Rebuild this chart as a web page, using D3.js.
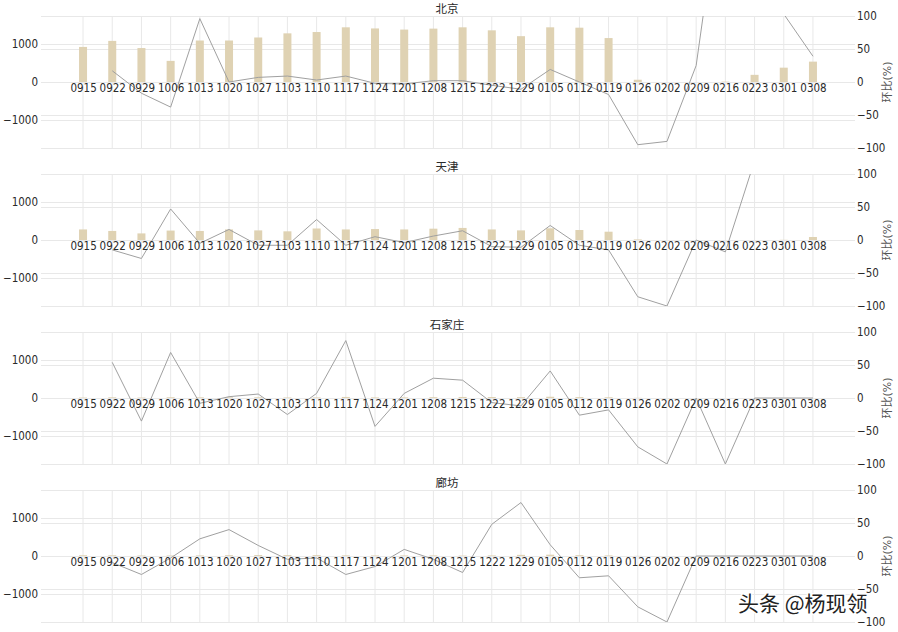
<!DOCTYPE html>
<html><head><meta charset="utf-8">
<script src="https://cdn.jsdelivr.net/npm/d3@7"></script>
<style>
html,body{margin:0;padding:0;background:#fff;}
svg{display:block;font-family:"DejaVu Sans","Noto Sans CJK SC",sans-serif;}
.tk{font-family:"DejaVu Sans Condensed","DejaVu Sans",sans-serif;font-stretch:condensed;}
</style></head>
<body>
<svg id="chart" width="898" height="632"></svg>
<script>
const categories = ["0915","0922","0929","1006","1013","1020","1027","1103","1110","1117","1124","1201","1208","1215","1222","1229","0105","0112","0119","0126","0202","0209","0216","0223","0301","0308"];
const cityNames = ["北京","天津","石家庄","廊坊"];

const beijingVolume = [930,1090,900,560,1100,1100,1180,1290,1325,1450,1420,1390,1415,1450,1370,1215,1450,1440,1165,60,0,0,10,190,380,540];
const beijingChange = [null,17,-17,-38,96,0,7,9,3,9,-2,-3,2,2,-5,-11,19,0,-19,-95,-90,25,340,1500,103,39];

const tianjinVolume = [280,240,175,250,240,280,255,230,305,280,290,280,300,320,280,255,310,265,220,15,0,0,0,0,5,80];
const tianjinChange = [null,-15,-28,47,-5,16,-8,-8,31,-8,5,-4,6,14,-10,-11,22,-8,-15,-86,-100,0,-18,120,400,1500];

const shijiazhuangVolume = [12,18,12,20,18,18,19,14,15,28,16,17,22,28,26,23,33,24,20,5,0,0,0,0,0,0];
const shijiazhuangChange = [null,54,-35,69,-8,2,6,-25,7,87,-43,7,30,27,-7,-12,41,-26,-18,-74,-100,0,-100,0,0,0];

const langfangVolume = [20,18,13,13,16,22,25,24,23,17,14,15,15,11,16,30,35,23,16,4,0,0,0,0,0,0];
const langfangChange = [null,-10,-28,-3,26,40,16,-5,-3,-28,-16,10,-5,-25,48,81,17,-33,-30,-77,-100,0,0,0,0,0];

const leftTicks = [-1000,0,1000];
const rightTicks = [-100,-50,0,50,100];
const rightAxisTitle = "环比(%)";

const volumes = [beijingVolume, tianjinVolume, shijiazhuangVolume, langfangVolume];
const changes = [beijingChange, tianjinChange, shijiazhuangChange, langfangChange];

const svg = d3.select("#chart");
const plotLeft = 41, plotRight = 855;
const panelTop0 = 16, panelStep = 158, panelH = 132;

const x = d3.scalePoint().domain(categories).range([plotLeft, plotRight]).padding(1.44);

const gridColor = "#e8e8e8";
const textColor = "#2a2a2a";
const fs = 11.5;

cityNames.forEach((name, i) => {
  const top = panelTop0 + i * panelStep;
  const bottom = top + panelH;
  const yL = d3.scaleLinear().domain([-1750, 1750]).range([bottom, top]);
  const yR = d3.scaleLinear().domain([-100, 100]).range([bottom, top]);
  const g = svg.append("g");

  const clipId = "clip" + i;
  svg.append("clipPath").attr("id", clipId).append("rect")
    .attr("x", plotLeft).attr("y", top).attr("width", plotRight - plotLeft).attr("height", panelH);

  g.append("g").selectAll("line").data(categories).join("line")
    .attr("x1", d => x(d)).attr("x2", d => x(d))
    .attr("y1", top).attr("y2", bottom)
    .attr("stroke", gridColor).attr("stroke-width", 1);
  g.append("g").selectAll("line").data(leftTicks).join("line")
    .attr("x1", plotLeft).attr("x2", plotRight)
    .attr("y1", d => Math.round(yL(d)) + 0.5).attr("y2", d => Math.round(yL(d)) + 0.5)
    .attr("stroke", gridColor);
  g.append("g").selectAll("line").data(rightTicks).join("line")
    .attr("x1", plotLeft).attr("x2", plotRight)
    .attr("y1", d => Math.round(yR(d)) + 0.5).attr("y2", d => Math.round(yR(d)) + 0.5)
    .attr("stroke", gridColor);

  g.append("text").attr("x", 447).attr("y", top - 3)
    .attr("text-anchor", "middle").attr("font-size", 11.5).attr("fill", textColor)
    .text(name);

  const bw = 8;
  g.append("g").selectAll("rect").data(volumes[i]).join("rect")
    .attr("x", (d, j) => x(categories[j]) - bw / 2)
    .attr("width", bw)
    .attr("y", d => Math.min(yL(d), yL(0)))
    .attr("height", d => Math.abs(yL(d) - yL(0)))
    .attr("fill", "#dfd2b3");

  const line = d3.line()
    .defined(d => d != null)
    .x((d, j) => x(categories[j]))
    .y(d => yR(d));
  g.append("path").datum(changes[i])
    .attr("clip-path", `url(#${clipId})`)
    .attr("d", line)
    .attr("fill", "none").attr("stroke", "#a0a0a0").attr("stroke-width", 1);

  const la = g.append("g").attr("transform", `translate(${plotLeft - 3},0)`)
    .call(d3.axisLeft(yL).tickValues(leftTicks).tickSize(0).tickPadding(0).tickFormat(d3.format("d")));
  la.select(".domain").remove();
  la.selectAll("text").attr("class", "tk").attr("font-size", fs).attr("fill", textColor);

  const ra = g.append("g").attr("transform", `translate(${plotRight + 2},0)`)
    .call(d3.axisRight(yR).tickValues(rightTicks).tickSize(0).tickPadding(0));
  ra.select(".domain").remove();
  ra.selectAll("text").attr("class", "tk").attr("font-size", fs).attr("fill", textColor);

  g.append("text")
    .attr("transform", `translate(891,${yR(0)}) rotate(-90)`)
    .attr("text-anchor", "middle").attr("font-size", 11).attr("fill", "#555")
    .text(rightAxisTitle);

  const xa = g.append("g").attr("transform", `translate(0,${yL(0)})`)
    .call(d3.axisBottom(x).tickSize(0).tickPadding(2));
  xa.select(".domain").remove();
  xa.selectAll("text").attr("class", "tk").attr("font-size", fs).attr("fill", textColor);
});

svg.append("text").attr("x", 738).attr("y", 611)
  .attr("font-size", 21).attr("font-family", "Noto Sans CJK SC")
  .attr("fill", "#222").attr("stroke", "#fff").attr("stroke-width", 3)
  .attr("paint-order", "stroke")
  .text("头条 @杨现领");
</script>
</body></html>
